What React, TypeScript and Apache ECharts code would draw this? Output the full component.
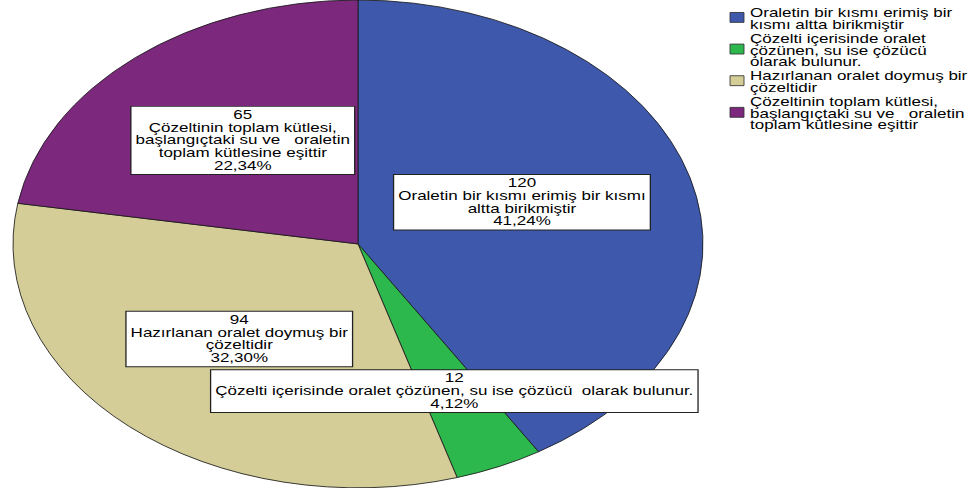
import React, { useEffect, useRef } from "react";
import * as echarts from "echarts";

// ---- data ----
const CATEGORIES = [
  "Oraletin bir kısmı erimiş bir kısmı altta birikmiştir",
  "Çözelti içerisinde oralet çözünen, su ise çözücü  olarak bulunur.",
  "Hazırlanan oralet doymuş bir çözeltidir",
  "Çözeltinin toplam kütlesi, başlangıçtaki su ve   oraletin toplam kütlesine eşittir",
];
const VALUES = [120, 12, 94, 65];
const LABEL_TEXT = [
  "Oraletin bir kısmı erimiş bir kısmı\naltta birikmiştir",
  "Çözelti içerisinde oralet çözünen, su ise çözücü  olarak bulunur.",
  "Hazırlanan oralet doymuş bir\nçözeltidir",
  "Çözeltinin toplam kütlesi,\nbaşlangıçtaki su ve   oraletin\ntoplam kütlesine eşittir",
];
const LEGEND_TEXT = [
  "Oraletin bir kısmı erimiş bir\nkısmı altta birikmiştir",
  "Çözelti içerisinde oralet\nçözünen, su ise çözücü\nolarak bulunur.",
  "Hazırlanan oralet doymuş bir\nçözeltidir",
  "Çözeltinin toplam kütlesi,\nbaşlangıçtaki su ve   oraletin\ntoplam kütlesine eşittir",
];

// ---- style ----
const COLORS = ["#3E58AC", "#2DB84D", "#D4CD97", "#7C287D"];
const FONT = '17px "Liberation Sans", Arial, sans-serif';
const SY = 0.707; // vertical squash of the whole figure
const CX = 358;
const CY = 345;
const R = 345;
const LABEL_R = [0.505, 0.665, 0.52, 0.54];
const LABEL_ANGLE_SHIFT = [-4, -0.7, 0, 2];

const TOTAL = VALUES.reduce((a, b) => a + b, 0);
const CUM = VALUES.map((_, i) => VALUES.slice(0, i).reduce((a, b) => a + b, 0));
const pct = (v: number) => ((v / TOTAL) * 100).toFixed(2).replace(".", ",") + "%";

function sliceItem(params: any, api: any) {
  const i = params.dataIndex;
  const v = api.value(1);
  const start = (CUM[i] / TOTAL) * Math.PI * 2;
  const end = start + (v / TOTAL) * Math.PI * 2;
  return {
    type: "group",
    scaleY: SY,
    children: [
      {
        type: "sector",
        shape: {
          cx: CX,
          cy: CY,
          r: R,
          r0: 0,
          startAngle: start - Math.PI / 2,
          endAngle: end - Math.PI / 2,
          clockwise: true,
        },
        style: { fill: COLORS[i], stroke: "#1a1a1a", lineWidth: 1, strokeNoScale: true },
      },
    ],
  };
}

function labelItem(params: any, api: any) {
  const i = params.dataIndex;
  const v = api.value(1);
  const mid =
    ((CUM[i] + v / 2) / TOTAL) * Math.PI * 2 + (LABEL_ANGLE_SHIFT[i] * Math.PI) / 180;
  const r = LABEL_R[i] * R;
  const x = CX + Math.sin(mid) * r;
  const y = CY - Math.cos(mid) * r;
  return {
    type: "group",
    scaleY: SY,
    children: [
      {
        type: "text",
        x,
        y,
        z2: 100,
        style: {
          text: `${v}\n${LABEL_TEXT[i]}\n${pct(v)}`,
          font: FONT,
          fill: "#000",
          align: "center",
          verticalAlign: "middle",
          lineHeight: 18,
          backgroundColor: "#fff",
          borderColor: "#222",
          borderWidth: 1.3,
          padding: [3, 4, 2, 4],
        },
      },
    ],
  };
}

function legendGraphic() {
  const lh = 16.5;
  const gap = 3.5;
  let y = 13 / SY; // first line centre
  const children: any[] = [];
  LEGEND_TEXT.forEach((t, i) => {
    const n = t.split("\n").length;
    const top = y - lh / 2;
    const blockMid = top + (n * lh) / 2;
    children.push({
      type: "rect",
      shape: { x: 730, y: blockMid - 9, width: 14, height: 14 },
      style: { fill: COLORS[i], stroke: "#333", lineWidth: 1, strokeNoScale: true },
    });
    children.push({
      type: "text",
      x: 750,
      y: top,
      style: {
        text: t,
        font: FONT,
        fill: "#000",
        align: "left",
        verticalAlign: "top",
        lineHeight: lh,
      },
    });
    y += n * lh + gap;
  });
  return [{ type: "group", x: 0, y: 0, scaleY: SY, children }];
}

export default function App() {
  const ref = useRef<HTMLDivElement>(null);
  useEffect(() => {
    if (!ref.current) return;
    const chart = echarts.init(ref.current, undefined, { renderer: "svg" });
    const data = VALUES.map((v, i) => ({ name: CATEGORIES[i], value: [i, v] }));
    chart.setOption({
      animation: false,
      backgroundColor: "#fff",
      series: [
        {
          type: "custom",
          name: "slices",
          coordinateSystem: "none",
          silent: true,
          data,
          renderItem: sliceItem,
          z: 2,
        },
        {
          type: "custom",
          name: "labels",
          coordinateSystem: "none",
          silent: true,
          data,
          renderItem: labelItem,
          z: 3,
        },
      ],
      graphic: legendGraphic(),
    });
    return () => chart.dispose();
  }, []);
  return (
    <div
      ref={ref}
      style={{ position: "absolute", left: 0, top: 0, width: 979, height: 488 }}
    />
  );
}
